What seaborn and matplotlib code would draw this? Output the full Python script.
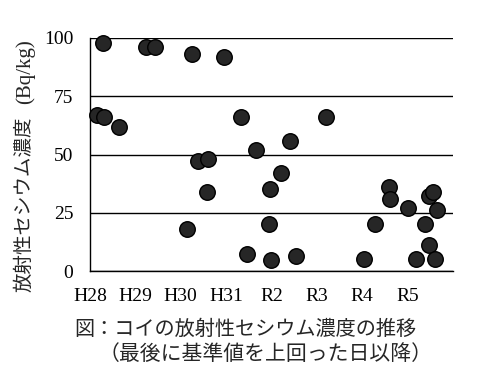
import numpy as np
import pandas as pd
import matplotlib
matplotlib.use('Agg')
import matplotlib.pyplot as plt
import seaborn as sns

# fiscal-year position (0 = start of H28) and concentration (Bq/kg)
year_pos = [0.15, 0.31, 0.29, 0.65, 1.23, 1.43, 2.24, 2.13, 2.39, 2.59,
            2.58, 2.95, 3.33, 3.47, 3.65, 3.96, 3.94, 3.98, 4.20, 4.41,
            4.53, 5.20, 6.04, 6.28, 6.59, 6.62, 7.01, 7.18, 7.38, 7.47,
            7.55, 7.47, 7.64, 7.60]
conc = [67, 66, 98, 62, 96, 96, 93, 18, 47, 48,
        34, 92, 66, 7.5, 52, 35, 20, 4.7, 42, 56,
        6.4, 66, 5.1, 20, 36, 31, 27, 5, 20, 32,
        34, 11, 26, 5]
year_labels = ['H28', 'H29', 'H30', 'H31', 'R2', 'R3', 'R4', 'R5']
y_ticks = [0, 25, 50, 75, 100]

df = pd.DataFrame({'pos': year_pos, 'conc': conc})

sns.set_style('white')
plt.rcParams['font.family'] = ['Liberation Serif', 'Noto Sans CJK JP']

fig = plt.figure(figsize=(4.8, 3.84), dpi=100)
ax = fig.add_axes([90 / 480, 1 - 271 / 384, 363 / 480, 233 / 384])

sns.scatterplot(data=df, x='pos', y='conc', ax=ax, s=125, color='#262626',
                edgecolor='black', linewidth=1, zorder=3, clip_on=False)

ax.set_xlim(0, 8)
ax.set_ylim(0, 100)
ax.set_xticks(range(len(year_labels)))
ax.set_xticklabels(year_labels)
ax.set_yticks(y_ticks)
ax.tick_params(axis='both', labelsize=14, direction='out', length=5, width=1,
               color='black', labelcolor='black')
ax.tick_params(axis='y', pad=7)
ax.tick_params(axis='x', pad=7)
for t in ax.get_xticklabels() + ax.get_yticklabels():
    t.set_fontfamily('Liberation Serif')

ax.yaxis.grid(True, color='black', linewidth=1)
ax.set_axisbelow(True)
for side in ['top', 'right']:
    ax.spines[side].set_visible(False)
for side in ['left', 'bottom']:
    ax.spines[side].set_color('black')
    ax.spines[side].set_linewidth(1)
ax.set_xlabel('')
ax.set_ylabel('')

# y label: Japanese part in gothic, unit in serif
fig.text(24 / 480, 1 - 292 / 384, '放射性セシウム濃度', rotation=90,
         ha='center', va='bottom', fontsize=14, family=['Noto Sans CJK JP'])
fig.text(25 / 480, 1 - 104 / 384, '(Bq/kg)', rotation=90,
         ha='center', va='bottom', fontsize=15, family=['Liberation Serif'])

# caption
fig.text(74 / 480, 1 - 329 / 384, '図：コイの放射性セシウム濃度の推移',
         ha='left', va='center', fontsize=14.5, family=['Noto Sans CJK JP'])
fig.text(99 / 480, 1 - 354 / 384, '（最後に基準値を上回った日以降）',
         ha='left', va='center', fontsize=15, family=['Noto Sans CJK JP'])

fig.savefig('out.png', dpi=100)
